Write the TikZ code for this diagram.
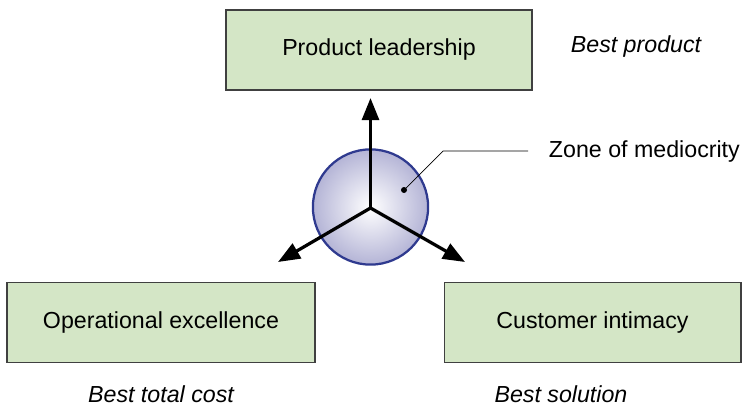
\documentclass[tikz,border=0pt]{standalone}
\usepackage{fontspec}
\setmainfont{Liberation Sans}
\usetikzlibrary{arrows.meta}
\definecolor{boxgreen}{HTML}{D4E6C6}
\definecolor{ballblue}{HTML}{2F3A8F}
\definecolor{balllav}{HTML}{B4B4D6}
\begin{document}
\begin{tikzpicture}[x=0.025cm,y=-0.025cm,
  every node/.style={font=\fontsize{16.5}{19}\selectfont},
  strategy/.style={draw=black!75,line width=0.8pt,fill=boxgreen,minimum height=2cm,outer sep=0pt},
  goal/.style={font=\fontsize{16.5}{19}\selectfont\itshape,inner sep=1pt},
  axis/.style={line width=2.3pt,-{Triangle[length=0.55cm,width=0.42cm]}}]
\useasboundingbox (0,0) rectangle (742,407);
% the three value disciplines
\node[strategy,minimum width=7.65cm] (prod) at (379,50) {Product leadership};
\node[strategy,minimum width=7.7cm] (oper) at (161,322.5) {Operational excellence};
\node[strategy,minimum width=7.42cm] (cust) at (592.5,322.5) {Customer intimacy};
\node[goal] (bprod) at (636,47) {Best product};
\node[goal] (bcost) at (161,394) {Best total cost};
\node[goal] (bsol) at (561,394) {Best solution};
% zone of mediocrity
\node[circle,draw=ballblue,line width=1.6pt,minimum size=2.88cm,inner sep=0pt,
  inner color=white,outer color=balllav] (zone) at (370.5,207) {};
\coordinate (mid) at (370.5,208);
\coordinate (up) at (370.5,98);
\coordinate (lft) at (278,262);
\coordinate (rgt) at (465,262);
\draw[axis] (mid) -- (up);
\draw[axis] (mid) -- (lft);
\draw[axis] (mid) -- (rgt);
\node[anchor=west] (zlab) at (544,151) {Zone of mediocrity};
\coordinate (pin) at (404,190);
\coordinate (knee) at (443,151);
\coordinate (lend) at (528,151);
\fill (pin) circle (3);
\draw[line width=0.5pt] (pin) -- (knee) -- (lend);
\end{tikzpicture}
\end{document}
